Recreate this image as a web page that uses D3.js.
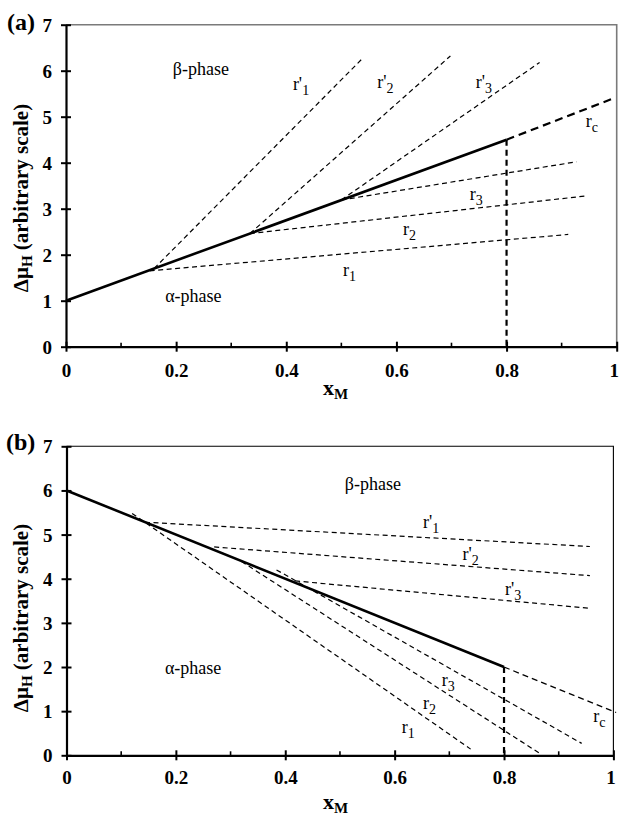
<!DOCTYPE html>
<html>
<head>
<meta charset="utf-8">
<script src="https://cdn.jsdelivr.net/npm/d3@7"></script>
<style>
  html, body { margin: 0; padding: 0; background: #fff; }
  svg { display: block; font-family: "Liberation Serif", "Times New Roman", serif; }
</style>
</head>
<body>
<svg id="fig" width="620" height="819"></svg>
<script>
// ---- shared axis values ----
const xMajorTicks = [0, 0.2, 0.4, 0.6, 0.8, 1];
const xTickLabels = ["0", "0.2", "0.4", "0.6", "0.8", "1"];
const xMinorTicks = [0.1, 0.3, 0.5, 0.7, 0.9];
const yTicks = [0, 1, 2, 3, 4, 5, 6, 7];
const yTickLabels = ["0", "1", "2", "3", "4", "5", "6", "7"];

// ---- panel (a): boundary rising with x_M ----
const aBoundary = [[0, 1.0], [0.8, 4.5]];
const aBoundaryExt = [[0.8, 4.5], [0.99, 5.38]];
const aDrop = [[0.8, 4.5], [0.8, 0]];
const aR1 = [[0.152, 1.65], [0.912, 2.44]];
const aR2 = [[0.334, 2.46], [0.946, 3.28]];
const aR3 = [[0.50, 3.19], [0.927, 4.02]];
const aR1p = [[0.16, 1.70], [0.537, 6.25]];
const aR2p = [[0.334, 2.46], [0.698, 6.32]];
const aR3p = [[0.50, 3.19], [0.86, 6.18]];

// ---- panel (b): boundary falling with x_M ----
const bBoundary = [[0, 6.0], [0.8, 2.0]];
const bBoundaryExt = [[0.8, 2.0], [1.005, 0.97]];
const bDrop = [[0.8, 2.0], [0.8, 0]];
const bR1 = [[0.12, 5.48], [0.739, 0.14]];
const bR2 = [[0.32, 4.39], [0.867, 0.03]];
const bR3 = [[0.384, 4.20], [0.942, 0.27]];
const bR1p = [[0.1435, 5.28], [0.957, 4.73]];
const bR2p = [[0.27, 4.72], [0.957, 4.07]];
const bR3p = [[0.418, 3.95], [0.957, 3.33]];

const svg = d3.select("#fig");
const SERIF = "Liberation Serif";

function drawPanel(cfg) {
  const x = d3.scaleLinear().domain([0, 1]).range(cfg.xRange);
  const y = d3.scaleLinear().domain([0, 7]).range(cfg.yRange);
  const g = svg.append("g");
  const line = d3.line().x(d => x(d[0])).y(d => y(d[1]));

  // frame: top and right edges
  g.append("path")
    .attr("d", `M${x(0)},${y(7)}H${x(1)}V${y(0)}`)
    .attr("fill", "none")
    .attr("stroke", cfg.frameColor)
    .attr("stroke-width", cfg.frameWidth);

  // x axis
  const xAxis = g.append("g").attr("transform", `translate(0,${y(0)})`)
    .call(d3.axisBottom(x).tickValues(xMajorTicks).tickFormat((d, i) => xTickLabels[i]).tickSizeOuter(0));
  xAxis.select(".domain").attr("stroke", "#000").attr("stroke-width", 2.2);
  xAxis.selectAll(".tick line").attr("y1", -5).attr("y2", 5).attr("stroke-width", 2);
  xAxis.selectAll(".tick text")
    .attr("y", cfg.xLabelOffset).attr("dy", 0)
    .attr("dx", d => (d === 1 ? -3 : 0))
    .attr("font-family", SERIF).attr("font-weight", "bold").attr("font-size", 19);
  xAxis.selectAll(".minor").data(xMinorTicks).enter().append("line")
    .attr("x1", d => x(d)).attr("x2", d => x(d))
    .attr("y1", -4).attr("y2", 0)
    .attr("stroke", "#000").attr("stroke-width", 1.6);

  // y axis
  const yAxis = g.append("g").attr("transform", `translate(${x(0)},0)`)
    .call(d3.axisLeft(y).tickValues(yTicks).tickFormat((d, i) => yTickLabels[i]).tickSizeOuter(0));
  yAxis.select(".domain").attr("stroke", "#000").attr("stroke-width", 2.2);
  yAxis.selectAll(".tick line").attr("x1", -5).attr("x2", 5).attr("stroke-width", 2);
  yAxis.selectAll(".tick text")
    .attr("x", -14).attr("dy", "0.34em")
    .attr("font-family", SERIF).attr("font-weight", "bold").attr("font-size", 19);

  // tie lines (thin dashes)
  cfg.ties.forEach(pts => {
    g.append("path").attr("d", line(pts))
      .attr("fill", "none").attr("stroke", "#000")
      .attr("stroke-width", 1.2).attr("stroke-dasharray", "5,3.5");
  });

  // extension of the boundary
  g.append("path").attr("d", line(cfg.ext))
    .attr("fill", "none").attr("stroke", "#000")
    .attr("stroke-width", cfg.extWidth).attr("stroke-dasharray", cfg.extDash);

  // drop line at x_M = 0.8
  g.append("path").attr("d", line(cfg.drop))
    .attr("fill", "none").attr("stroke", "#000")
    .attr("stroke-width", 2.2).attr("stroke-dasharray", "6,4");

  // phase boundary
  g.append("path").attr("d", line(cfg.boundary))
    .attr("fill", "none").attr("stroke", "#000")
    .attr("stroke-width", 2.6).attr("stroke-linecap", "butt");

  // region and line labels
  cfg.labels.forEach(l => {
    const t = g.append("text")
      .attr("x", x(l.x)).attr("y", y(l.y))
      .attr("font-family", SERIF)
      .attr("font-size", 18).attr("fill", "#000");
    t.append("tspan").text(l.text);
    if (l.sub) {
      t.append("tspan").attr("dy", 5).attr("font-size", 14).text(l.sub);
    }
  });

  // panel letter
  svg.append("text")
    .attr("x", cfg.letterPos[0]).attr("y", cfg.letterPos[1])
    .attr("font-family", SERIF)
    .attr("font-weight", "bold").attr("font-size", 24)
    .text(cfg.letter);

  // axis titles
  const xt = svg.append("text")
    .attr("x", 323).attr("y", cfg.xTitleY)
    .attr("font-family", SERIF)
    .attr("font-weight", "bold").attr("font-size", 22);
  xt.append("tspan").text("x");
  xt.append("tspan").attr("dy", 4).attr("font-size", 15).text("M");

  const yt = svg.append("text")
    .attr("transform", `translate(28,${cfg.yTitleY}) rotate(-90)`)
    .attr("text-anchor", "middle")
    .attr("font-family", SERIF)
    .attr("font-weight", "bold").attr("font-size", 21);
  yt.append("tspan").text("Δμ");
  yt.append("tspan").attr("dy", 4).attr("font-size", 15).text("H");
  yt.append("tspan").attr("dy", -4).text(" (arbitrary scale)");
}

drawPanel({
  xRange: [66, 616.7], yRange: [346.7, 24.7],
  frameColor: "#7a7a7a", frameWidth: 1.6,
  xLabelOffset: 30.5,
  boundary: aBoundary, ext: aBoundaryExt, drop: aDrop,
  extWidth: 2.2, extDash: "8,5",
  ties: [aR1, aR2, aR3, aR1p, aR2p, aR3p],
  labels: [
    { x: 0.194, y: 5.90, text: "β-phase" },
    { x: 0.180, y: 0.98, text: "α-phase" },
    { x: 0.412, y: 5.58, text: "r'", sub: "1" },
    { x: 0.565, y: 5.62, text: "r'", sub: "2" },
    { x: 0.744, y: 5.62, text: "r'", sub: "3" },
    { x: 0.944, y: 4.78, text: "r", sub: "c" },
    { x: 0.733, y: 3.19, text: "r", sub: "3" },
    { x: 0.612, y: 2.43, text: "r", sub: "2" },
    { x: 0.503, y: 1.54, text: "r", sub: "1" }
  ],
  letter: "(a)", letterPos: [7, 30],
  xTitleY: 395, yTitleY: 198
});

drawPanel({
  xRange: [66.5, 613.4], yRange: [755.3, 446.3],
  frameColor: "#000", frameWidth: 1.1,
  xLabelOffset: 29,
  boundary: bBoundary, ext: bBoundaryExt, drop: bDrop,
  extWidth: 1.3, extDash: "6,4",
  ties: [bR1, bR2, bR3, bR1p, bR2p, bR3p],
  labels: [
    { x: 0.509, y: 6.00, text: "β-phase" },
    { x: 0.180, y: 1.84, text: "α-phase" },
    { x: 0.652, y: 5.14, text: "r'", sub: "1" },
    { x: 0.724, y: 4.42, text: "r'", sub: "2" },
    { x: 0.802, y: 3.63, text: "r'", sub: "3" },
    { x: 0.963, y: 0.76, text: "r", sub: "c" },
    { x: 0.686, y: 1.57, text: "r", sub: "3" },
    { x: 0.652, y: 1.06, text: "r", sub: "2" },
    { x: 0.613, y: 0.50, text: "r", sub: "1" }
  ],
  letter: "(b)", letterPos: [6, 450],
  xTitleY: 809, yTitleY: 618
});
</script>
</body>
</html>
